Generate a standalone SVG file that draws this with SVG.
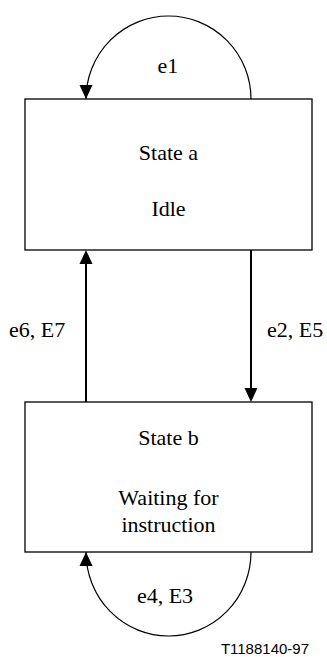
<svg xmlns="http://www.w3.org/2000/svg" width="327" height="657" viewBox="0 0 327 657">
<style>
.box{fill:#fff;stroke:#000;stroke-width:1.3}
.arc{fill:none;stroke:#000;stroke-width:1.2}
.ln{fill:none;stroke:#000;stroke-width:2}
.ah{fill:#000;stroke:none}
</style>
<rect width="327" height="657" fill="#fff"/>
<g id="connectors">
<path class="arc" d="M251,99 A82.5,83 0 0 0 86,99"/>
<polygon class="ah" points="79.5,85 92.5,85 86,99"/>
<path class="ln" d="M86,402 L86,260"/>
<polygon class="ah" points="79.5,264 92.5,264 86,250"/>
<path class="ln" d="M251,250 L251,392"/>
<polygon class="ah" points="244.5,388 257.5,388 251,402"/>
<path class="arc" d="M251,552 A82.5,84 0 0 1 86,552"/>
<polygon class="ah" points="79.5,566 92.5,566 86,552"/>
<text font-family="Liberation Serif" font-size="22" text-anchor="middle" x="168" y="73">e1</text>
<text font-family="Liberation Serif" font-size="22" x="9" y="337">e6, E7</text>
<text font-family="Liberation Serif" font-size="22" x="267" y="337">e2, E5</text>
<text font-family="Liberation Serif" font-size="22" text-anchor="middle" x="165" y="603">e4, E3</text>
</g>
<g id="stateA">
<rect class="box" x="25" y="99" width="287" height="151"/>
<text font-family="Liberation Serif" font-size="22" text-anchor="middle" x="168.5" y="160">State a</text>
<text font-family="Liberation Serif" font-size="22" text-anchor="middle" x="168.5" y="216">Idle</text>
</g>
<g id="stateB">
<rect class="box" x="25" y="402" width="287" height="150"/>
<text font-family="Liberation Serif" font-size="22" text-anchor="middle" x="168.5" y="445">State b</text>
<text font-family="Liberation Serif" font-size="22" text-anchor="middle" x="168.5" y="505">Waiting for</text>
<text font-family="Liberation Serif" font-size="22" text-anchor="middle" x="168.5" y="532">instruction</text>
</g>
<text x="309" y="654" text-anchor="end" font-family="Liberation Sans" font-size="15">T1188140-97</text>
</svg>
